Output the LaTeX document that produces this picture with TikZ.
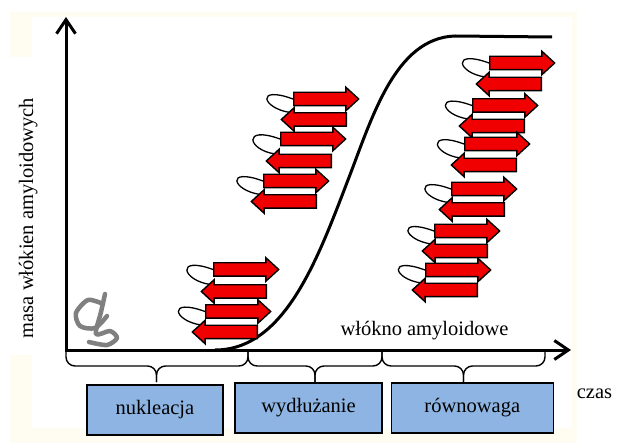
\documentclass[tikz,border=0pt]{standalone}
\usepackage{fontspec}
\setmainfont{Liberation Serif}
\usetikzlibrary{positioning}
\usetikzlibrary{shapes.arrows}
\usetikzlibrary{arrows.meta}
\usetikzlibrary{calc}
\usetikzlibrary{backgrounds}

\definecolor{strandred}{RGB}{240,0,0}
\definecolor{phaseblue}{RGB}{141,180,226}
\definecolor{tanglegray}{RGB}{128,128,128}
\definecolor{paper}{RGB}{255,252,242}

\begin{document}
\begin{tikzpicture}
[x=1pt,y=-1pt,
 font=\fontsize{20.5}{24}\selectfont,
 axis/.style={line width=3pt,{Straight Barb[length=14pt,width=19pt]}-{Straight Barb[length=14pt,width=19pt]}},
 growth/.style={line width=3pt},
 bracket/.style={line width=1.4pt,rounded corners=9pt},
 phase/.style={draw,line width=1.3pt,fill=phaseblue,minimum height=50pt},
 sheet/.style={single arrow,draw,fill=strandred,line width=1.4pt,minimum height=65pt,
   inner sep=0pt,text height=12pt,text depth=0pt,single arrow head extend=5pt,
   single arrow tip angle=85,single arrow head indent=0pt,anchor=tail},
 rsheet/.style={sheet},
 lsheet/.style={sheet,shape border rotate=180},
 hairpin/.style={line width=1.3pt},
 tangle/.style={line width=4.5pt,draw=tanglegray,line cap=round,line join=round}]

\useasboundingbox (0,0) rectangle (618,443);

% axes
\coordinate (O) at (66,350);
\coordinate (Y) at (66,17);
\coordinate (X) at (571,350);
\draw[axis] (Y) |- (X);

% sigmoid
\draw[growth] (215,350) .. controls (285,350) and (318,258) .. (348,180)
	.. controls (372,118) and (395,38) .. (455,36) -- (552,37);

% nucleation stack
\node (n1) [rsheet] at (213,269.5) {};
\node (n2) [lsheet] at (267,291.5) {};
\node (n3) [rsheet] at (205,311.5) {};
\node (n4) [lsheet] at (258,332) {};

% elongation stack
\node (w1) [rsheet] at (293,99) {};
\node (w2) [lsheet] at (347,119.5) {};
\node (w3) [rsheet] at (280,139) {};
\node (w4) [lsheet] at (332,161) {};
\node (w5) [rsheet] at (263,181) {};
\node (w6) [lsheet] at (317,201.5) {};

% plateau stack
\node (r1) [rsheet] at (489,63) {};
\node (r2) [lsheet] at (542,84) {};
\node (r3) [rsheet] at (472,105.5) {};
\node (r4) [lsheet] at (525,126) {};
\node (r5) [rsheet] at (464,144) {};
\node (r6) [lsheet] at (517,165) {};
\node (r7) [rsheet] at (451,189) {};
\node (r8) [lsheet] at (505,209.5) {};
\node (r9) [rsheet] at (434,231) {};
\node (r10) [lsheet] at (488,251) {};
\node (r11) [rsheet] at (425,270) {};
\node (r12) [lsheet] at (478,290) {};

\begin{scope}[on background layer]
\fill[paper] (10,12) rectangle (577,443);
\fill[white] (32,17) rectangle (572,428);
\fill[white] (10,57) rectangle (32,355);
\foreach \a/\b in {n1/n2,n3/n4,w1/w2,w3/w4,w5/w6,r1/r2,r3/r4,r5/r6,r7/r8,r9/r10,r11/r12}
	\draw[hairpin] (\a.tail) .. controls +(-38,-14) and +(-28,-4) .. ($(\b.tip)+(10,-7)$);
\end{scope}

% monomer
\draw[tangle] plot[smooth] coordinates {(105,294) (101,312) (96,334) (110,331) (117,338) (107,345) (89,342)};
\draw[tangle] plot[smooth] coordinates {(103,304) (88,300) (76,313) (80,326) (95,328) (107,316)};

% braces under the time axis
\coordinate (c1) at (248,350);
\coordinate (c2) at (382,350);
\coordinate (c3) at (545,350);
\coordinate (m1) at (156.5,366);
\coordinate (m2) at (315,366);
\coordinate (m3) at (463.5,366);
\draw[bracket] (O) |- (m1) -- ++(0,16);
\draw[bracket] (c1) |- (m1) -- ++(0,16);
\draw[bracket] (c1) |- (m2) -- ++(0,16);
\draw[bracket] (c2) |- (m2) -- ++(0,16);
\draw[bracket] (c2) |- (m3) -- ++(0,16);
\draw[bracket] (c3) |- (m3) -- ++(0,16);

\node (nuk) [phase,minimum width=136pt] at (155,410) {nukleacja};
\node (wyd) [phase,minimum width=147pt] at (308.5,408) {wydłużanie};
\node (row) [phase,minimum width=162pt,right=8pt of wyd] {równowaga};

\node (ylab) [rotate=90,anchor=base] at (33,218) {masa włókien amyloidowych};
\node (fib) [anchor=base] at (424.5,335) {włókno amyloidowe};
\node (czas) [anchor=base] at (594.5,398) {czas};
\end{tikzpicture}
\end{document}
